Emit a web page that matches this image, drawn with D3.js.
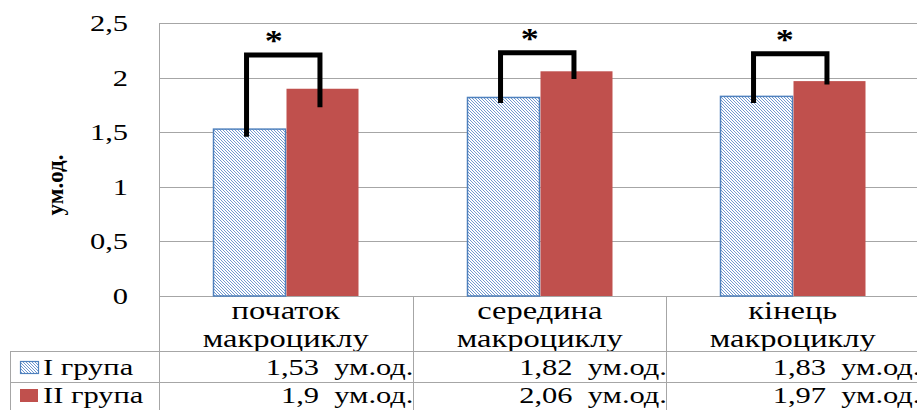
<!DOCTYPE html>
<meta charset="utf-8">
<head>
    <script type="text/javascript" src="https://d3js.org/d3.v7.min.js"></script>
    <style>
        body { margin: 0; background: white; }
    </style>
    <title></title>
</head>
<body>
<script>

    var width = 917
    var height = 410

    // chart data
    var categories = [["початок", "макроциклу"], ["середина", "макроциклу"], ["кінець", "макроциклу"]]
    var seriesNames = ["I група", "II група"]
    var group1 = [1.53, 1.82, 1.83]
    var group2 = [1.9, 2.06, 1.97]
    var yTicks = [0, 0.5, 1, 1.5, 2, 2.5]
    var unit = "ум.од."
    // significance brackets (value units)
    var bracketTop = [2.21, 2.23, 2.22]
    var bracketLow1 = [1.46, 1.77, 1.77]
    var bracketLow2 = [1.73, 1.99, 1.94]

    var serif = "Liberation Serif"
    var stretch = 1.27   // text in the original is drawn a bit wide

    var svg = d3.select("body").append("svg")
        .attr("width", width)
        .attr("height", height)

    // pixel hatch, lines running down to the right
    var defs = svg.append("defs")
    var pat = defs.append("pattern")
        .attr("id", "hatch")
        .attr("patternUnits", "userSpaceOnUse")
        .attr("width", 3).attr("height", 3)
    pat.append("rect").attr("width", 3).attr("height", 3).attr("fill", "white")
    pat.selectAll(".px").data([0, 1, 2]).enter().append("rect")
        .attr("x", d => d).attr("y", d => d)
        .attr("width", 1).attr("height", 1)
        .attr("fill", "#7399d0")
        .attr("shape-rendering", "crispEdges")

    var x = d3.scaleBand().domain([0, 1, 2]).range([159, 919.5])
    var xs = d3.scaleBand().domain([0, 1]).range([0, x.bandwidth()]).paddingOuter(0.75)
    var y = d3.scaleLinear().domain([0, 2.5]).range([296, 23.3])

    var fmt = function (v) { return String(v).replace(".", ",") }

    // text helper: places a horizontally stretched text
    function wideText(parent, tx, ty, size, sx) {
        return parent.append("text")
            .attr("transform", "translate(" + tx + "," + ty + ") scale(" + sx + ",1)")
            .attr("font-family", serif)
            .attr("font-size", size)
            .attr("fill", "#000")
    }

    // gridlines
    svg.append("g").selectAll("line")
        .data(yTicks).enter().append("line")
        .attr("x1", 159).attr("x2", width)
        .attr("y1", d => Math.round(y(d)) + 0.5).attr("y2", d => Math.round(y(d)) + 0.5)
        .attr("stroke", "#a6a6a6").attr("stroke-width", 1)

    // tick labels
    yTicks.forEach(function (t) {
        wideText(svg, 128, y(t) + 8, 24, stretch)
            .attr("text-anchor", "end")
            .text(fmt(t))
    })

    // y axis title
    svg.append("text")
        .attr("transform", "translate(63,185) rotate(-90)")
        .attr("text-anchor", "middle")
        .attr("font-family", serif)
        .attr("font-size", 23).attr("font-weight", "bold")
        .text(unit)

    // bars
    var groups = svg.append("g").selectAll("g")
        .data(categories).enter().append("g")
        .attr("transform", (d, i) => "translate(" + Math.round(x(i)) + ",0)")

    groups.append("rect")
        .attr("x", Math.round(xs(0)) + 0.5).attr("width", Math.round(xs.bandwidth()))
        .attr("y", (d, i) => y(group1[i])).attr("height", (d, i) => y(0) - y(group1[i]))
        .attr("fill", "url(#hatch)").attr("stroke", "#4f81bd").attr("stroke-width", 1.5)

    groups.append("rect")
        .attr("x", Math.round(xs(1)) + 0.5).attr("width", Math.round(xs.bandwidth()))
        .attr("y", (d, i) => y(group2[i])).attr("height", (d, i) => y(0) - y(group2[i]))
        .attr("fill", "#c0504d")

    // brackets
    groups.append("path")
        .attr("d", (d, i) => {
            var a = xs(0) + xs.bandwidth() / 2 - 3
            var b = xs(1) + xs.bandwidth() / 2 - 2
            return "M" + a + "," + y(bracketLow1[i]) + " L" + a + "," + y(bracketTop[i]) +
                " L" + b + "," + y(bracketTop[i]) + " L" + b + "," + y(bracketLow2[i])
        })
        .attr("fill", "none").attr("stroke", "#000").attr("stroke-width", 5)

    groups.each(function (d, i) {
        wideText(d3.select(this), x.bandwidth() / 2 - 12 + i * 2, y(bracketTop[i]) - 5, 30, 1.2)
            .attr("text-anchor", "middle").attr("font-weight", "bold")
            .text("*")
    })

    // category labels
    groups.each(function (d) {
        var g = d3.select(this)
        wideText(g, x.bandwidth() / 2, 319, 26, 1.25).attr("text-anchor", "middle").text(d[0])
        wideText(g, x.bandwidth() / 2, 347, 26, 1.25).attr("text-anchor", "middle").text(d[1])
    })

    // data table
    var grid = svg.append("g").attr("stroke", "#a6a6a6").attr("stroke-width", 1)
    grid.append("line").attr("x1", 10).attr("x2", width).attr("y1", 351.5).attr("y2", 351.5)
    grid.append("line").attr("x1", 10).attr("x2", width).attr("y1", 382.5).attr("y2", 382.5)
    grid.append("line").attr("x1", 10.5).attr("x2", 10.5).attr("y1", 351).attr("y2", height)
    grid.append("line").attr("x1", 159.5).attr("x2", 159.5).attr("y1", 23).attr("y2", height)
    grid.selectAll(".vd").data([1, 2]).enter().append("line")
        .attr("x1", d => Math.round(x(d)) + 0.5).attr("x2", d => Math.round(x(d)) + 0.5)
        .attr("y1", 296).attr("y2", height)

    var rowsY = [375, 403]
    var series = [group1, group2]

    svg.append("rect").attr("x", 20.5).attr("y", 361.5).attr("width", 18).attr("height", 12)
        .attr("fill", "url(#hatch)").attr("stroke", "#4f81bd").attr("stroke-width", 1.2)
    svg.append("rect").attr("x", 20).attr("y", 389).attr("width", 18).attr("height", 13)
        .attr("fill", "#c0504d")

    seriesNames.forEach(function (name, r) {
        wideText(svg, 43, rowsY[r], 24, stretch).text(name)
        series[r].forEach(function (v, i) {
            wideText(svg, x(i) + x.bandwidth() + 1, rowsY[r], 24, stretch)
                .attr("text-anchor", "end")
                .style("white-space", "pre")
                .text(fmt(v) + "  " + unit)
        })
    })

</script>
</body>
</html>
